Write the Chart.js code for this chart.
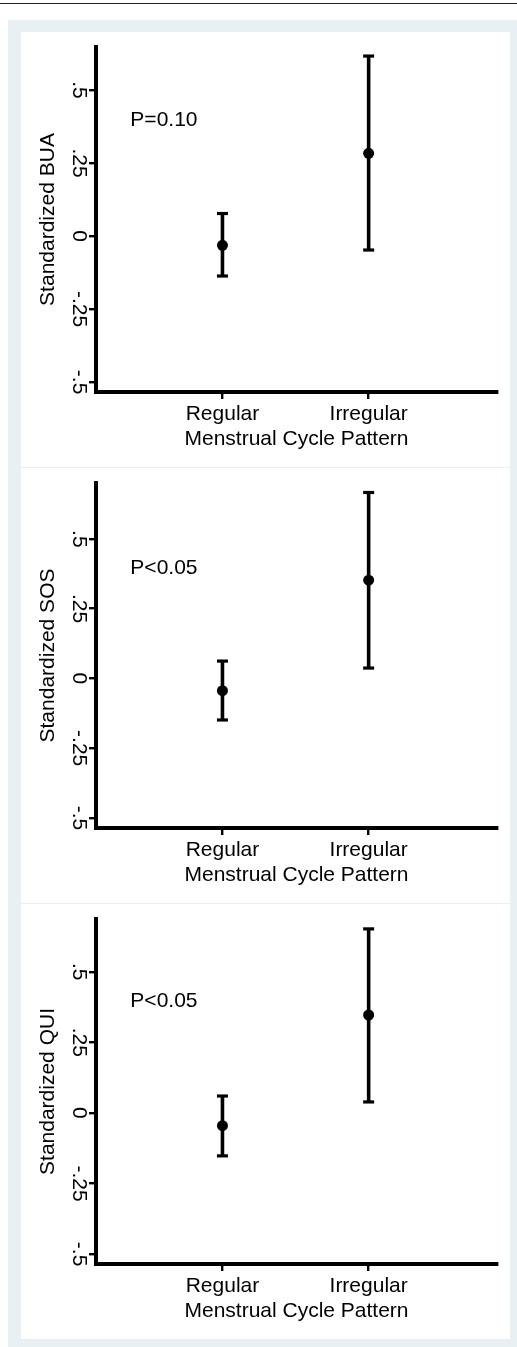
<!DOCTYPE html>
<html>
<head>
<meta charset="utf-8">
<script src="https://cdn.jsdelivr.net/npm/chart.js@4"></script>
<style>
    body { margin: 0; width: 517px; height: 1347px; background: #fff; position: relative; overflow: hidden; }
    #topLine { position: absolute; left: 0; top: 3px; width: 517px; height: 1px; background: #222; }
    #frame { position: absolute; left: 8px; top: 20px; width: 509px; height: 1327px; background: #e9f0f3; }
    .panel { position: absolute; left: 21px; width: 489px; height: 435px; background: #fff; }
</style>
</head>
<body>
<div id="topLine"></div>
<div id="frame"></div>
<div class="panel" style="top:32px"><canvas id="chartBUA" width="489" height="435"></canvas></div>
<div class="panel" style="top:468px"><canvas id="chartSOS" width="489" height="435"></canvas></div>
<div class="panel" style="top:904px"><canvas id="chartQUI" width="489" height="435"></canvas></div>
<script>
// categories on the x axis (Stata put them at x = 1 and 2)
const categories = ["Regular", "Irregular"];
const xPositions = [1, 2];
const xTitle = "Menstrual Cycle Pattern";

// y ticks shared by all three panels
const yTicks = [-0.5, -0.25, 0, 0.25, 0.5];
const yTickLabels = ["-.5", "-.25", "0", ".25", ".5"];

// panel titles and p-value notes
const yTitles = ["Standardized BUA", "Standardized SOS", "Standardized QUI"];
const pLabels = ["P=0.10", "P<0.05", "P<0.05"];
const pLabelX = 0.37;
const pLabelY = 0.395;

// means and 95% CI
const buaMean = [-0.032, 0.283];
const buaLower = [-0.137, -0.048];
const buaUpper = [0.077, 0.616];

const sosMean = [-0.044, 0.352];
const sosLower = [-0.149, 0.037];
const sosUpper = [0.062, 0.666];

const quiMean = [-0.045, 0.347];
const quiLower = [-0.152, 0.039];
const quiUpper = [0.060, 0.652];

// axis ranges of each panel
const yMins = [-0.534, -0.536, -0.535];
const yMaxs = [0.647, 0.700, 0.687];
const xMin = 0.135;
const xMax = 2.878;

Chart.defaults.font.family = '"Liberation Sans", Arial, Helvetica, sans-serif';
Chart.defaults.font.size = 21;
Chart.defaults.color = "#000";

// draws the P value note at a data position
const pLabelPlugin = {
    id: "pLabel",
    afterDatasetsDraw(chart, args, opts) {
        const ctx = chart.ctx;
        const x = chart.scales.x.getPixelForValue(pLabelX);
        const y = chart.scales.y.getPixelForValue(pLabelY);
        ctx.save();
        ctx.font = '21px "Liberation Sans", Arial, sans-serif';
        ctx.fillStyle = "#000";
        ctx.textAlign = "left";
        ctx.textBaseline = "middle";
        ctx.fillText(opts.text, x, y);
        ctx.restore();
    }
};

function makePanel(canvasId, idx, means, lowers, uppers) {
    const datasets = [];

    // whiskers, one line per category
    xPositions.forEach((xv, i) => {
        datasets.push({
            type: "line",
            data: [{ x: xv, y: lowers[i] }, { x: xv, y: uppers[i] }],
            borderColor: "#000",
            borderWidth: 3.6,
            pointRadius: 0,
            fill: false
        });
    });

    // caps
    const caps = [];
    xPositions.forEach((xv, i) => {
        caps.push({ x: xv, y: lowers[i] });
        caps.push({ x: xv, y: uppers[i] });
    });
    datasets.push({
        type: "scatter",
        data: caps,
        pointStyle: "line",
        pointRadius: 5.5,
        borderWidth: 3.2,
        borderColor: "#000",
        backgroundColor: "#000"
    });

    // means
    datasets.push({
        type: "scatter",
        data: xPositions.map((xv, i) => ({ x: xv, y: means[i] })),
        pointStyle: "circle",
        pointRadius: 5.5,
        borderWidth: 0,
        backgroundColor: "#000",
        borderColor: "#000"
    });

    new Chart(document.getElementById(canvasId), {
        type: "scatter",
        data: { datasets: datasets },
        plugins: [pLabelPlugin],
        options: {
            responsive: false,
            animation: false,
            events: [],
            layout: { padding: { left: 0, top: 15, right: 13, bottom: 15.4 } },
            plugins: {
                legend: { display: false },
                tooltip: { enabled: false },
                pLabel: { text: pLabels[idx] }
            },
            scales: {
                x: {
                    type: "linear",
                    position: "bottom",
                    min: xMin,
                    max: xMax,
                    afterBuildTicks: s => { s.ticks = xPositions.map(v => ({ value: v })); },
                    afterFit: s => { s.height = 59.6; },
                    ticks: {
                        padding: 2.4,
                        maxRotation: 0,
                        minRotation: 0,
                        color: "#000",
                        callback: v => categories[xPositions.indexOf(v)]
                    },
                    grid: {
                        drawOnChartArea: false,
                        drawTicks: true,
                        tickLength: 7,
                        color: "#000",
                        lineWidth: 2.4
                    },
                    border: { display: true, color: "#000", width: 4 },
                    title: {
                        display: true,
                        text: xTitle,
                        color: "#000",
                        padding: 0,
                        font: { size: 21 }
                    }
                },
                y: {
                    type: "linear",
                    position: "left",
                    min: yMins[idx],
                    max: yMaxs[idx],
                    afterBuildTicks: s => { s.ticks = yTicks.map(v => ({ value: v })); },
                    afterFit: s => { s.width = 75; },
                    ticks: {
                        padding: -8,
                        minRotation: -90,
                        maxRotation: -90,
                        crossAlign: "center",
                        color: "#000",
                        callback: v => yTickLabels[yTicks.indexOf(v)]
                    },
                    grid: {
                        drawOnChartArea: false,
                        drawTicks: true,
                        tickLength: 7,
                        color: "#000",
                        lineWidth: 2.4
                    },
                    border: { display: true, color: "#000", width: 4 },
                    title: {
                        display: true,
                        text: yTitles[idx],
                        color: "#000",
                        padding: { top: 14.6, bottom: 0 },
                        font: { size: 21 }
                    }
                }
            }
        }
    });
}

makePanel("chartBUA", 0, buaMean, buaLower, buaUpper);
makePanel("chartSOS", 1, sosMean, sosLower, sosUpper);
makePanel("chartQUI", 2, quiMean, quiLower, quiUpper);
</script>
</body>
</html>
